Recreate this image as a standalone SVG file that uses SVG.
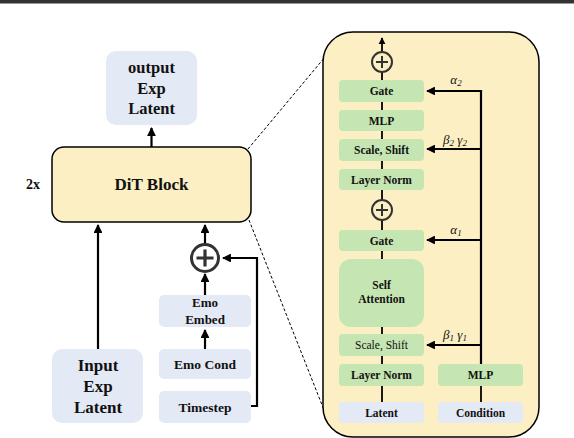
<svg xmlns="http://www.w3.org/2000/svg" width="574" height="438" viewBox="0 0 574 438">
<defs>
<style>
.t{font-family:"Liberation Serif","Times New Roman",serif;font-weight:bold;fill:#111;text-anchor:middle}
.s{font-size:11.5px}
.blue{fill:#e3e9f5}
.green{fill:#c5e6b2}
.ln{stroke:#000;stroke-width:2.2;fill:none}
.thin{stroke:#000;stroke-width:1.8;fill:none}
.dash{stroke:#000;stroke-width:1;stroke-dasharray:3,2;fill:none}
.m{font-family:"Liberation Serif","DejaVu Serif",serif;font-style:italic;font-size:13px;fill:#111;text-anchor:middle}
</style>
<marker id="ah" viewBox="0 0 10 10" refX="9" refY="5" markerWidth="4" markerHeight="4" orient="auto-start-reverse">
<path d="M0,0 L10,5 L0,10 z" fill="#000"/>
</marker>
</defs>
<rect x="0" y="0" width="574" height="3.5" fill="#333"/>

<g id="connectors">
<line class="ln" x1="151.5" y1="147" x2="151.5" y2="128" marker-end="url(#ah)"/>
<line class="ln" x1="98" y1="349" x2="98" y2="225" marker-end="url(#ah)"/>
<line class="ln" x1="205" y1="244" x2="205" y2="225" marker-end="url(#ah)"/>
<line class="ln" x1="205" y1="295" x2="205" y2="274" marker-end="url(#ah)"/>
<line class="ln" x1="205" y1="349" x2="205" y2="330" marker-end="url(#ah)"/>
<polyline class="ln" points="251,406 257,406 257,258 223,258" marker-end="url(#ah)"/>
<line class="dash" x1="248" y1="149" x2="325" y2="57"/>
<line class="dash" x1="249" y1="220" x2="324" y2="410"/>
</g>

<g id="output"><rect class="blue" x="106" y="51" width="91" height="74" rx="10"/>
<text class="t" font-size="16.5" x="151.5" y="73">output</text><text class="t" font-size="16.5" x="151.5" y="94">Exp</text><text class="t" font-size="16.5" x="151.5" y="114">Latent</text></g>

<g id="dit"><rect x="52" y="147" width="199" height="75" rx="12" fill="#fdefc4" stroke="#000" stroke-width="1.5"/>
<text class="t" font-size="17" x="151.5" y="190">DiT Block</text></g>
<text class="t" font-size="14" x="33" y="189">2x</text>

<g id="input"><rect class="blue" x="52" y="349" width="91" height="74" rx="10"/>
<text class="t" font-size="17" x="98" y="371">Input</text><text class="t" font-size="17" x="98" y="392">Exp</text><text class="t" font-size="17" x="98" y="413">Latent</text></g>

<g id="emoembed"><rect class="blue" x="159" y="295" width="92" height="32" rx="5"/>
<text class="t" font-size="13" x="205" y="307">Emo</text><text class="t" font-size="13" x="205" y="324">Embed</text></g>
<g id="emocond"><rect class="blue" x="159" y="349" width="92" height="30" rx="5"/>
<text class="t" font-size="13.5" x="205" y="369">Emo Cond</text></g>
<g id="timestep"><rect class="blue" x="159" y="391" width="92" height="32" rx="5"/>
<text class="t" font-size="13.5" x="205" y="412">Timestep</text></g>

<g id="plus"><circle cx="205" cy="258" r="13.5" fill="none" stroke="#333" stroke-width="3"/>
<path d="M196.5,258 H213.5 M205,249.5 V266.5" stroke="#333" stroke-width="3.2"/></g>

<g id="panel"><rect x="323" y="32" width="216" height="405" rx="30" fill="#fdefc4" stroke="#000" stroke-width="1.5"/></g>

<g id="panel-connectors">
<line class="thin" x1="382" y1="52" x2="382" y2="38" marker-end="url(#ah)"/>
<line class="thin" x1="382" y1="72" x2="382" y2="80"/>
<line class="thin" x1="382" y1="102" x2="382" y2="110"/>
<line class="thin" x1="382" y1="131" x2="382" y2="139"/>
<line class="thin" x1="382" y1="161" x2="382" y2="169"/>
<line class="thin" x1="382" y1="190" x2="382" y2="200"/>
<line class="thin" x1="382" y1="220" x2="382" y2="230"/>
<line class="thin" x1="382" y1="251" x2="382" y2="259"/>
<line class="thin" x1="382" y1="327" x2="382" y2="334"/>
<line class="thin" x1="382" y1="356" x2="382" y2="364"/>
<line class="thin" x1="382" y1="386" x2="382" y2="402"/>
<line class="thin" x1="481" y1="386" x2="481" y2="402"/>
<polyline class="ln" points="481,364 481,91 427,91" marker-end="url(#ah)"/>
<line class="ln" x1="481" y1="149" x2="427" y2="149" marker-end="url(#ah)"/>
<line class="ln" x1="481" y1="240" x2="427" y2="240" marker-end="url(#ah)"/>
<line class="ln" x1="481" y1="345" x2="427" y2="345" marker-end="url(#ah)"/>
</g>
<text class="m" x="456" y="84">α<tspan font-size="9" dy="2">2</tspan></text>
<text class="m" x="455" y="144">β<tspan font-size="9" dy="2">2</tspan><tspan dy="-2"> γ</tspan><tspan font-size="9" dy="2">2</tspan></text>
<text class="m" x="456" y="234">α<tspan font-size="9" dy="2">1</tspan></text>
<text class="m" x="455" y="339">β<tspan font-size="9" dy="2">1</tspan><tspan dy="-2"> γ</tspan><tspan font-size="9" dy="2">1</tspan></text>

<g id="plus2"><circle cx="382" cy="62" r="10" fill="none" stroke="#333" stroke-width="2"/>
<path d="M376,62 H388 M382,56 V68" stroke="#333" stroke-width="2"/></g>
<g id="plus1"><circle cx="382" cy="210" r="10" fill="none" stroke="#333" stroke-width="2"/>
<path d="M376,210 H388 M382,204 V216" stroke="#333" stroke-width="2"/></g>

<g id="gate2"><rect class="green" x="339" y="80" width="85" height="22" rx="4"/><text class="t s" x="381.5" y="95">Gate</text></g>
<g id="mlp2"><rect class="green" x="339" y="110" width="85" height="21" rx="4"/><text class="t s" x="381.5" y="124.5">MLP</text></g>
<g id="scale2"><rect class="green" x="339" y="139" width="85" height="22" rx="4"/><text class="t s" x="381.5" y="154">Scale, Shift</text></g>
<g id="norm2"><rect class="green" x="339" y="169" width="85" height="21" rx="4"/><text class="t s" x="381.5" y="183.5">Layer Norm</text></g>
<g id="gate1"><rect class="green" x="339" y="230" width="85" height="21" rx="4"/><text class="t s" x="381.5" y="244.5">Gate</text></g>
<g id="attn"><rect class="green" x="339" y="259" width="85" height="68" rx="12"/><text class="t s" x="381.5" y="289">Self</text><text class="t s" x="381.5" y="303">Attention</text></g>
<g id="scale1"><rect class="green" x="339" y="334" width="85" height="22" rx="4"/><text class="t s" style="font-weight:normal" x="381.5" y="349">Scale, Shift</text></g>
<g id="norm1"><rect class="green" x="339" y="364" width="85" height="22" rx="4"/><text class="t s" x="381.5" y="379">Layer Norm</text></g>
<g id="latent"><rect class="blue" x="339" y="402" width="85" height="21" rx="4"/><text class="t s" x="381.5" y="416.5">Latent</text></g>
<g id="mlpc"><rect class="green" x="438" y="364" width="85" height="22" rx="4"/><text class="t s" x="480.5" y="379">MLP</text></g>
<g id="cond"><rect class="blue" x="438" y="402" width="85" height="21" rx="4"/><text class="t s" x="480.5" y="416.5">Condition</text></g>
</svg>
